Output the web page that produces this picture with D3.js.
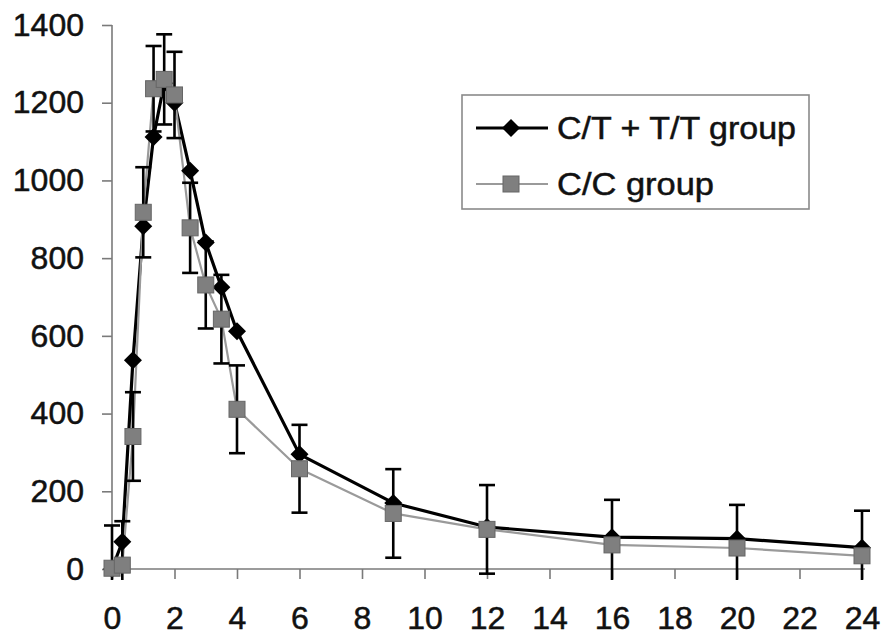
<!DOCTYPE html>
<html>
<head>
<meta charset="utf-8">
<script src="https://cdn.jsdelivr.net/npm/d3@7"></script>
<style>
  html, body { margin: 0; padding: 0; background: #fff; }
  svg { display: block; }
  text { font-family: "Liberation Sans", Arial, sans-serif; fill: #111; }
</style>
</head>
<body>
<svg id="chart" width="886" height="637"></svg>
<script>
// ---- data ----
const times   = [0, 0.33, 0.67, 1, 1.33, 1.67, 2, 2.5, 3, 3.5, 4, 6, 9, 12, 16, 20, 24];
const ctttValues = [0, 70, 537, 882, 1112, 1250, 1200, 1025, 840, 725, 612, 295, 170, 108, 82, 78, 55];
const ccValues   = [2, 10, 341, 918, 1236, 1260, 1220, 878, 731, 643, 411, 258, 143, 102, 62, 54, 34];
const ccErrors   = [110, 113, 114, 116, 110, 116, 111, 116, 112, 114, 113, 113, 114, 114, 116, 111, 116];
const seriesNames = ["C/T + T/T group", "C/C group"];
const xTicks = [0, 2, 4, 6, 8, 10, 12, 14, 16, 18, 20, 22, 24];
const yTicks = [0, 200, 400, 600, 800, 1000, 1200, 1400];

// ---- layout ----
const svg = d3.select("#chart");
const x = d3.scaleLinear().domain([0, 24]).range([112, 862]);
const y = d3.scaleLinear().domain([0, 1400]).range([569, 25]);

// axes
const axisColor = "#7a7a7a";
const yAxis = svg.append("g").attr("transform", `translate(${x(0)},0)`)
  .call(d3.axisLeft(y).tickValues(yTicks).tickSize(10).tickPadding(18).tickFormat(d3.format("d")));
const xAxis = svg.append("g").attr("transform", `translate(0,${y(0)})`)
  .call(d3.axisBottom(x).tickValues(xTicks).tickSize(10).tickPadding(27).tickFormat(d3.format("d")));
[yAxis, xAxis].forEach(g => {
  g.select(".domain").attr("stroke", axisColor).attr("stroke-width", 1.6);
  g.selectAll(".tick line").attr("stroke", axisColor).attr("stroke-width", 1.6);
  g.selectAll(".tick text").attr("font-family", "Liberation Sans, Arial, sans-serif")
    .attr("font-size", 32).attr("fill", "#111")
    .attr("stroke", "#111").attr("stroke-width", 0.5);
});
yAxis.select(".domain").attr("d", `M0,${y(1400)}V${y(0)}`);
xAxis.select(".domain").attr("d", `M${x(0)},0H${x(24) + 3}`);

// clip for error bars
svg.append("clipPath").attr("id", "plotClip")
  .append("rect").attr("x", 0).attr("y", 0).attr("width", 886).attr("height", 580);

const ccData = times.map((t, i) => ({t, v: ccValues[i], e: ccErrors[i]}));
const ctData = times.map((t, i) => ({t, v: ctttValues[i]}));

const line = d3.line().x(d => x(d.t)).y(d => y(d.v));

// series 1 line (black)
svg.append("path").datum(ctData).attr("d", line)
  .attr("fill", "none").attr("stroke", "#000").attr("stroke-width", 3.2).attr("stroke-linejoin", "round");

// series 2 line (grey)
svg.append("path").datum(ccData).attr("d", line)
  .attr("fill", "none").attr("stroke", "#9a9a9a").attr("stroke-width", 2.2).attr("stroke-linejoin", "round");

// error bars (C/C)
const eb = svg.append("g").attr("clip-path", "url(#plotClip)")
  .attr("stroke", "#000").attr("stroke-width", 2.6);
const capW = 8;
ccData.forEach(d => {
  const g = eb.append("g");
  g.append("line").attr("x1", x(d.t)).attr("x2", x(d.t)).attr("y1", y(d.v + d.e)).attr("y2", y(d.v - d.e));
  g.append("line").attr("x1", x(d.t) - capW).attr("x2", x(d.t) + capW).attr("y1", y(d.v + d.e)).attr("y2", y(d.v + d.e));
  g.append("line").attr("x1", x(d.t) - capW).attr("x2", x(d.t) + capW).attr("y1", y(d.v - d.e)).attr("y2", y(d.v - d.e));
});

// diamond markers
const diamond = (cx, cy, r) => `M${cx},${cy - r}L${cx + r},${cy}L${cx},${cy + r}L${cx - r},${cy}Z`;
svg.append("g").selectAll("path").data(ctData).join("path")
  .attr("d", d => diamond(x(d.t), y(d.v), 9)).attr("fill", "#000");

// square markers
const sq = 16;
svg.append("g").selectAll("rect").data(ccData).join("rect")
  .attr("x", d => x(d.t) - sq / 2).attr("y", d => y(d.v) - sq / 2)
  .attr("width", sq).attr("height", sq)
  .attr("fill", "#7f7f7f").attr("stroke", "#666").attr("stroke-width", 1);

// legend
const lg = svg.append("g");
lg.append("rect").attr("x", 462).attr("y", 95).attr("width", 347).attr("height", 114)
  .attr("fill", "#fff").attr("stroke", "#8a8a8a").attr("stroke-width", 1.6);
const rows = [128, 184];
lg.append("line").attr("x1", 476).attr("x2", 548).attr("y1", rows[0]).attr("y2", rows[0])
  .attr("stroke", "#000").attr("stroke-width", 3.2);
lg.append("path").attr("d", diamond(511, rows[0], 9)).attr("fill", "#000");
lg.append("line").attr("x1", 476).attr("x2", 548).attr("y1", rows[1]).attr("y2", rows[1])
  .attr("stroke", "#9a9a9a").attr("stroke-width", 2.2);
lg.append("rect").attr("x", 511 - sq / 2).attr("y", rows[1] - sq / 2).attr("width", sq).attr("height", sq)
  .attr("fill", "#7f7f7f").attr("stroke", "#666").attr("stroke-width", 1);
const legendWidths = [239, 157];
seriesNames.forEach((name, i) => {
  lg.append("text").attr("x", 557).attr("y", rows[i] + 10.5)
    .attr("font-size", 32)
    .attr("stroke", "#111").attr("stroke-width", 0.5)
    .attr("textLength", legendWidths[i]).attr("lengthAdjust", "spacingAndGlyphs")
    .text(name);
});
</script>
</body>
</html>
